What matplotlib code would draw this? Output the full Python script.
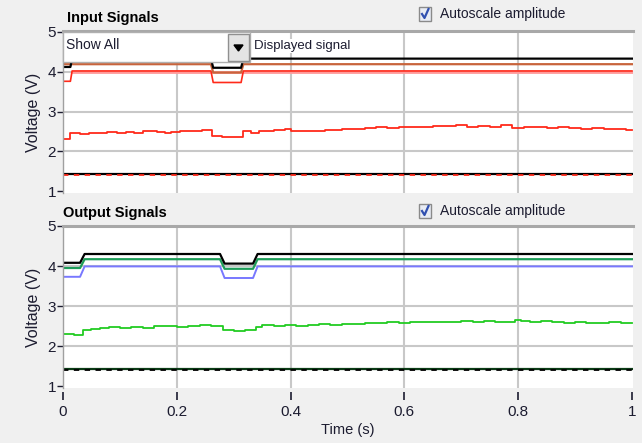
import matplotlib
matplotlib.use("Agg")
import matplotlib.pyplot as plt
from matplotlib.patches import Rectangle, Polygon

plt.rcParams['font.family'] = ['Liberation Sans', 'DejaVu Sans']

# ---------------- data ----------------
# Input signals
in_black_t = [0.000, 0.013, 0.016, 0.260, 0.264, 0.313, 0.317, 1.000]
in_black_v = [4.12, 4.12, 4.33, 4.33, 4.10, 4.10, 4.33, 4.33]
in_brown_t = [0.000, 0.260, 0.264, 0.313, 0.317, 1.000]
in_brown_v = [4.19, 4.19, 3.98, 3.98, 4.19, 4.19]
in_red_t = [0.000, 0.013, 0.016, 0.260, 0.264, 0.313, 0.317, 1.000]
in_red_v = [3.76, 3.76, 4.02, 4.02, 3.73, 3.73, 4.02, 4.02]
in_pink_t = [0.016, 1.000]
in_pink_v = [3.99, 3.99]
in_mid_t = [0.000, 0.013, 0.030, 0.045, 0.060, 0.077, 0.095, 0.110, 0.125, 0.140,
            0.165, 0.180, 0.190, 0.205, 0.225, 0.245, 0.262, 0.280, 0.300, 0.316,
            0.330, 0.345, 0.370, 0.390, 0.400, 0.420, 0.440, 0.460, 0.490, 0.510,
            0.530, 0.550, 0.570, 0.590, 0.610, 0.630, 0.650, 0.670, 0.690, 0.710,
            0.730, 0.750, 0.770, 0.790, 0.810, 0.830, 0.850, 0.870, 0.890, 0.910,
            0.930, 0.950, 0.970, 0.990, 1.000]
in_mid_v = [2.30, 2.45, 2.43, 2.47, 2.45, 2.48, 2.46, 2.49, 2.47, 2.50,
            2.48, 2.46, 2.49, 2.50, 2.52, 2.54, 2.38, 2.36, 2.37, 2.52,
            2.47, 2.50, 2.54, 2.57, 2.51, 2.50, 2.52, 2.53, 2.55, 2.57,
            2.58, 2.60, 2.59, 2.61, 2.62, 2.61, 2.63, 2.64, 2.65, 2.62,
            2.64, 2.61, 2.65, 2.59, 2.62, 2.60, 2.58, 2.61, 2.58, 2.56,
            2.59, 2.57, 2.55, 2.53, 2.53]
in_low_t = [0.0, 1.0]
in_low_black_v = [1.42, 1.42]
in_low_red_v = [1.40, 1.40]

# Output signals
out_black_t = [0.000, 0.030, 0.038, 0.276, 0.284, 0.334, 0.342, 1.000]
out_black_v = [4.08, 4.08, 4.30, 4.30, 4.06, 4.06, 4.30, 4.30]
out_dgreen_t = [0.000, 0.030, 0.038, 0.276, 0.284, 0.334, 0.342, 1.000]
out_dgreen_v = [3.95, 3.95, 4.17, 4.17, 3.93, 3.93, 4.17, 4.17]
out_blue_t = [0.000, 0.030, 0.038, 0.276, 0.284, 0.334, 0.342, 1.000]
out_blue_v = [3.73, 3.73, 3.99, 3.99, 3.70, 3.70, 3.99, 3.99]
out_mid_t = [0.000, 0.020, 0.035, 0.050, 0.065, 0.080, 0.100, 0.120, 0.140, 0.160,
             0.180, 0.200, 0.220, 0.240, 0.260, 0.281, 0.300, 0.320, 0.339, 0.350,
             0.370, 0.390, 0.410, 0.430, 0.450, 0.470, 0.490, 0.510, 0.530, 0.550,
             0.570, 0.590, 0.610, 0.640, 0.670, 0.700, 0.720, 0.740, 0.760, 0.780,
             0.795, 0.805, 0.820, 0.840, 0.860, 0.880, 0.900, 0.920, 0.940, 0.960,
             0.980, 1.000]
out_mid_v = [2.30, 2.28, 2.39, 2.42, 2.44, 2.47, 2.45, 2.48, 2.46, 2.49,
             2.50, 2.48, 2.50, 2.52, 2.50, 2.40, 2.38, 2.39, 2.47, 2.52,
             2.50, 2.53, 2.51, 2.52, 2.54, 2.53, 2.55, 2.56, 2.58, 2.57,
             2.59, 2.58, 2.60, 2.59, 2.61, 2.62, 2.60, 2.63, 2.61, 2.60,
             2.66, 2.62, 2.60, 2.63, 2.59, 2.58, 2.60, 2.58, 2.57, 2.59,
             2.57, 2.57]
out_low_t = [0.0, 1.0]
out_low_dark_v = [1.42, 1.42]
out_low_black_v = [1.40, 1.40]

y_ticks = [1, 2, 3, 4, 5]
x_ticks = [0, 0.2, 0.4, 0.6, 0.8, 1]
x_tick_labels = ['0', '0.2', '0.4', '0.6', '0.8', '1']

# ---------------- layout ----------------
W, H = 642, 443
fig = plt.figure(figsize=(W / 100, H / 100), dpi=100)
fig.patch.set_facecolor('#f0f0f0')

def rect(x0, y0, x1, y1):
    return [x0 / W, 1 - y1 / H, (x1 - x0) / W, (y1 - y0) / H]

def fx(x):
    return x / W

def fy(y):
    return 1 - y / H

TXT = '#1c1c30'
GRID = '#c8c8c8'
FS = 10

def style_axes(ax, ylim, show_x):
    ax.set_facecolor('white')
    ax.set_xlim(0, 1.0018)
    ax.set_ylim(*ylim)
    ax.set_yticks(y_ticks)
    ax.set_yticklabels([str(v) for v in y_ticks])
    ax.set_xticks(x_ticks)
    for v in [2, 3, 4]:
        ax.axhline(v, color=GRID, lw=1.5, zorder=0)
    for v in [0.2, 0.4, 0.6, 0.8]:
        ax.axvline(v, color=GRID, lw=1.5, zorder=0)
    for s in ['right', 'bottom']:
        ax.spines[s].set_visible(False)
    ax.spines['top'].set_color('#a8a8a8')
    ax.spines['top'].set_linewidth(2.2)
    ax.spines['left'].set_color('#a0a0a0')
    ax.spines['left'].set_linewidth(1.0)
    ax.tick_params(axis='y', direction='out', length=4, width=1, color=TXT,
                   labelsize=FS + 1, labelcolor=TXT, pad=1)
    if show_x:
        ax.spines['bottom'].set_position(('outward', 3))
        ax.tick_params(axis='x', direction='out', length=6, width=1.2, color=TXT,
                       labelsize=FS + 1, labelcolor=TXT, pad=3)
        ax.set_xticklabels(x_tick_labels)
    else:
        ax.tick_params(axis='x', length=0, labelbottom=False)
    ax.set_ylabel('Voltage (V)', fontsize=FS + 1.5, color=TXT)

# Input axes
ax1 = fig.add_axes(rect(63, 31, 633, 193))
style_axes(ax1, (0.95, 5.025), False)
ax1.yaxis.set_label_coords(-0.039, 0.5)
ax1.plot(in_low_t, in_low_black_v, color='black', lw=1.6)
ax1.plot(in_low_t, in_low_red_v, color='#ff2a1a', lw=1.3, ls=(0, (3, 3)))
ax1.plot(in_mid_t, in_mid_v, color='#ff2a1a', lw=1.3, drawstyle='steps-post')
ax1.plot(in_pink_t, in_pink_v, color='#ff9a9a', lw=2.0)
ax1.plot(in_red_t, in_red_v, color='#ff2a1a', lw=1.2)
ax1.plot(in_brown_t, in_brown_v, color='#c8643c', lw=1.6)
ax1.plot(in_black_t, in_black_v, color='black', lw=1.6)

# Output axes
ax2 = fig.add_axes(rect(63, 226, 633, 388))
style_axes(ax2, (0.95, 5.0), True)
ax2.yaxis.set_label_coords(-0.039, 0.5)
ax2.set_xlabel('Time (s)', fontsize=FS + 0.5, color=TXT, labelpad=3)
ax2.plot(out_low_t, out_low_dark_v, color='#0b3b16', lw=1.6)
ax2.plot(out_low_t, out_low_black_v, color='black', lw=1.3, ls=(0, (3, 3)))
ax2.plot(out_mid_t, out_mid_v, color='#22cc22', lw=1.3, drawstyle='steps-post')
ax2.plot(out_blue_t, out_blue_v, color='#7878ff', lw=1.4)
ax2.plot(out_dgreen_t, out_dgreen_v, color='#1e9e5a', lw=1.6)
ax2.plot(out_black_t, out_black_v, color='black', lw=1.6)

# Titles
fig.text(fx(67), fy(18), 'Input Signals', fontsize=FS + 0.5, fontweight='bold',
         color='black', va='center', ha='left')
fig.text(fx(63), fy(213), 'Output Signals', fontsize=FS + 0.5, fontweight='bold',
         color='black', va='center', ha='left')

# Checkboxes
def checkbox(xc, yc):
    x0, y0, x1, y1 = xc - 6, yc - 7, xc + 6, yc + 7
    fig.patches.append(Rectangle((fx(x0), fy(y1)), fx(x1) - fx(x0), fy(y0) - fy(y1),
                                 transform=fig.transFigure, facecolor='#e8ecf4',
                                 edgecolor='#8a8a8a', lw=1.0))
    fig.lines.append(plt.Line2D([fx(xc - 3), fx(xc - 0.5), fx(xc + 3.5)],
                                [fy(yc), fy(yc + 4), fy(yc - 5)],
                                transform=fig.transFigure, color='#3050b0', lw=1.6))

checkbox(425, 14)
fig.text(fx(440), fy(14), 'Autoscale amplitude', fontsize=FS, color=TXT,
         va='center', ha='left')
checkbox(425, 211)
fig.text(fx(440), fy(211), 'Autoscale amplitude', fontsize=FS, color=TXT,
         va='center', ha='left')

# "Show All" selector box
fig.patches.append(Rectangle((fx(63), fy(62)), fx(250) - fx(63), fy(32) - fy(62),
                             transform=fig.transFigure, facecolor='white',
                             edgecolor='#b0b0b0', lw=1.0, zorder=3))
fig.patches.append(Rectangle((fx(228), fy(61)), fx(249) - fx(228), fy(34) - fy(61),
                             transform=fig.transFigure, facecolor='#e4e4e4',
                             edgecolor='#909090', lw=1.0, zorder=4))
fig.patches.append(Polygon([(fx(234), fy(45)), (fx(243), fy(45)), (fx(238.5), fy(51))],
                           closed=True, transform=fig.transFigure,
                           facecolor='black', edgecolor='black', zorder=5))
fig.text(fx(66), fy(45), 'Show All', fontsize=FS, color=TXT, va='center',
         ha='left', zorder=6)
fig.text(fx(254), fy(46), 'Displayed signal', fontsize=FS - 0.5, color=TXT,
         va='center', ha='left', zorder=6,
         bbox=dict(facecolor='white', edgecolor='none', pad=1))

fig.savefig('out.png', dpi=100, facecolor=fig.get_facecolor())
